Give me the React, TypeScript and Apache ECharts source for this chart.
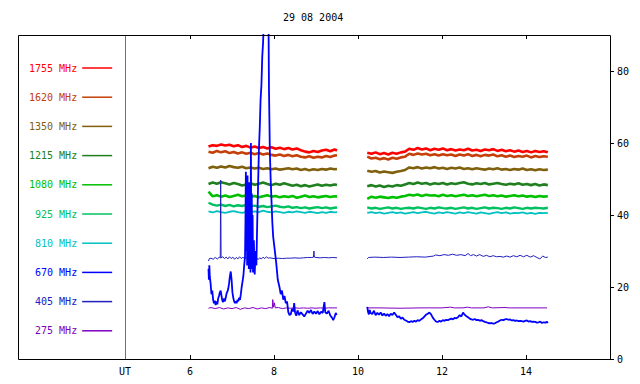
import React, { useEffect, useRef } from "react";
import * as echarts from "echarts";

const TITLE = "29 08 2004";
const FONT = "DejaVu Sans Mono";
const FREQS = ["1755 MHz", "1620 MHz", "1350 MHz", "1215 MHz", "1080 MHz", "925 MHz", "810 MHz", "670 MHz", "405 MHz", "275 MHz"];
const COLORS = ["#ff0000", "#c44008", "#80600c", "#208020", "#00c000", "#00c060", "#00c0c0", "#0000ff", "#2020c0", "#8000c0"];
const X_MIN = 4.452;
const X_MAX = 16;
const X_TICKS = [6, 8, 10, 12, 14];
const Y_TICKS = [0, 20, 40, 60, 80];
const GAP_T = 9.86;

const T1 = [6.44, 6.54, 6.64, 6.74, 6.84, 6.94, 7.04, 7.14, 7.24, 7.34, 7.44, 7.54, 7.64, 7.74, 7.84, 7.94, 8.04, 8.14, 8.24, 8.34, 8.44, 8.54, 8.64, 8.74, 8.84, 8.94, 9.04, 9.14, 9.24, 9.34, 9.44, 9.50];
const T2 = [10.22, 10.32, 10.42, 10.52, 10.62, 10.72, 10.82, 10.92, 11.02, 11.12,
  11.22, 11.32, 11.42, 11.52, 11.62, 11.72, 11.82, 11.92, 12.02, 12.12,
  12.22, 12.32, 12.42, 12.52, 12.62, 12.72, 12.82, 12.92, 13.02, 13.12,
  13.22, 13.32, 13.42, 13.52, 13.62, 13.72, 13.82, 13.92, 14.02, 14.12,
  14.22, 14.32, 14.42, 14.52];

const V1755a = [59.0, 59.4, 59.2, 59.6, 59.3, 59.5, 59.1, 59.4, 58.9, 59.2,
  58.7, 59.0, 58.6, 58.9, 58.5, 58.8, 58.4, 58.7, 58.3, 58.6,
  58.2, 58.5, 58.0, 57.6, 57.4, 57.8, 57.5, 57.9, 58.1, 57.7,
  58.2, 57.9];
const V1755b = [57.3, 57.0, 57.4, 56.9, 57.2, 56.8, 57.3, 57.0, 57.4, 57.6,
  58.4, 58.1, 58.6, 58.2, 58.5, 58.0, 58.4, 58.1, 58.5, 58.0,
  58.3, 57.9, 58.2, 58.0, 58.4, 57.9, 58.1, 57.8, 58.2, 58.0,
  58.3, 57.8, 58.1, 57.7, 58.0, 57.6, 57.9, 57.5, 57.8, 57.4,
  57.8, 57.5, 57.7, 57.4];
const V1620a = [57.6, 57.3, 57.8, 57.4, 57.7, 57.2, 57.5, 57.1, 57.4, 57.0,
  57.3, 56.9, 57.2, 56.8, 57.1, 56.7, 56.5, 56.8, 56.4, 56.7,
  56.3, 56.6, 56.2, 56.0, 56.3, 55.9, 56.2, 56.0, 56.4, 56.1,
  56.5, 56.6];
const V1620b = [56.2, 55.7, 55.9, 55.5, 55.8, 55.4, 55.9, 55.6, 56.0, 56.2,
  57.0, 56.7, 57.1, 56.8, 57.0, 56.6, 56.9, 56.5, 56.9, 56.6,
  56.8, 56.4, 56.8, 56.5, 56.9, 56.4, 56.7, 56.3, 56.7, 56.5,
  56.8, 56.3, 56.6, 56.2, 56.5, 56.1, 56.4, 56.2, 56.5, 56.0,
  56.4, 56.1, 56.3, 56.2];
const V1350a = [53.0, 53.4, 53.1, 53.5, 53.2, 53.6, 53.3, 53.1, 53.4, 53.0,
  53.2, 52.9, 53.1, 52.8, 53.0, 52.7, 52.9, 52.6, 52.8, 53.0,
  52.7, 52.9, 52.5, 52.8, 52.4, 52.7, 52.5, 52.8, 52.6, 52.9,
  52.7, 52.8];
const V1350b = [52.3, 52.0, 52.2, 51.8, 52.1, 51.9, 51.7, 52.0, 52.2, 52.5,
  53.2, 53.0, 53.3, 52.9, 53.2, 53.0, 53.3, 52.9, 53.1, 52.8,
  53.1, 52.9, 53.2, 52.8, 53.0, 52.7, 53.0, 52.8, 52.6, 52.9,
  52.7, 53.0, 52.6, 52.8, 52.5, 52.8, 52.6, 52.9, 52.5, 52.7,
  52.4, 52.7, 52.5, 52.6];
const V1215a = [48.6, 49.0, 48.7, 49.1, 48.8, 48.5, 48.9, 48.6, 48.2, 48.5,
  48.8, 48.4, 48.7, 49.0, 48.6, 48.3, 48.7, 48.4, 48.8, 48.5,
  48.1, 48.4, 48.0, 48.3, 47.9, 48.2, 48.5, 48.1, 48.4, 48.2,
  48.5, 48.3];
const V1215b = [48.0, 48.3, 47.9, 48.2, 47.8, 48.1, 47.9, 48.3, 48.1, 48.5,
  48.9, 48.6, 49.0, 48.7, 48.9, 48.5, 48.8, 48.6, 48.9, 48.5,
  48.8, 48.6, 48.9, 49.1, 48.7, 48.5, 48.8, 48.6, 48.9, 48.5,
  48.7, 48.9, 48.6, 48.4, 48.7, 48.5, 48.8, 48.4, 48.6, 48.3,
  48.6, 48.2, 48.5, 48.3];
const V1080a = [46.5, 45.2, 45.5, 45.1, 45.4, 45.0, 45.3, 45.6, 45.2, 45.4,
  45.0, 45.3, 44.9, 45.2, 45.5, 45.1, 45.3, 44.9, 45.2, 45.0,
  45.3, 44.8, 45.1, 45.4, 45.0, 45.2, 44.9, 45.1, 45.3, 45.0,
  45.2, 45.1];
const V1080b = [44.5, 45.1, 44.8, 45.1, 44.9, 44.7, 45.0, 44.8, 45.1, 45.3,
  45.6, 45.4, 45.7, 45.3, 45.6, 45.4, 45.5, 45.2, 45.6, 45.3,
  45.5, 45.2, 45.4, 45.6, 45.3, 45.5, 45.2, 45.4, 45.6, 45.3,
  45.5, 45.2, 45.4, 45.1, 45.3, 45.5, 45.2, 45.4, 45.1, 45.3,
  45.0, 45.3, 45.1, 45.2];
const V925a = [43.4, 42.9, 42.6, 42.9, 42.5, 42.8, 42.4, 42.7, 42.5, 42.8,
  42.4, 42.6, 42.3, 42.5, 42.2, 42.4, 42.6, 42.3, 42.1, 42.4,
  42.0, 42.2, 41.9, 42.1, 41.8, 42.0, 42.2, 41.9, 42.1, 41.8,
  42.0, 42.1];
const V925b = [42.1, 41.8, 42.0, 41.7, 41.9, 42.1, 41.8, 42.0, 41.7, 41.9,
  42.0, 41.8, 42.1, 41.9, 41.7, 42.0, 41.8, 42.1, 41.9, 41.8,
  42.0, 41.7, 41.9, 42.1, 41.8, 42.0, 41.7, 41.9, 42.1, 41.8,
  42.0, 41.9, 41.7, 42.0, 41.8, 42.1, 41.9, 41.7, 42.0, 41.8,
  42.0, 41.9, 41.8, 42.0];
const V810a = [41.0, 40.7, 41.1, 40.8, 40.6, 40.9, 41.1, 40.8, 40.6, 40.9,
  40.7, 41.0, 40.8, 41.2, 40.9, 40.7, 41.0, 40.8, 40.6, 40.9,
  40.7, 41.0, 40.8, 40.6, 40.9, 40.7, 40.5, 40.8, 40.6, 40.9,
  40.7, 40.8];
const V810b = [40.6, 40.8, 40.5, 40.7, 40.4, 40.6, 40.8, 40.5, 40.7, 40.4,
  40.6, 40.8, 40.5, 40.7, 40.9, 40.6, 40.4, 40.7, 40.5, 40.8,
  40.6, 40.4, 40.7, 40.5, 40.8, 40.6, 40.4, 40.7, 40.5, 40.3,
  40.6, 40.8, 40.5, 40.7, 40.4, 40.6, 40.5, 40.7, 40.4, 40.6,
  40.3, 40.6, 40.5, 40.6];

// 670 MHz: [UT hour, value]
const P670a = [
  [6.44, 25], [6.45, 22], [6.46, 26], [6.47, 23], [6.49, 21], [6.51, 18], [6.53, 19], [6.55, 16.5], [6.57, 15.5], [6.59, 16.2],
  [6.61, 15], [6.63, 16], [6.65, 15.2], [6.67, 16.8], [6.69, 17.5], [6.71, 18.5], [6.73, 19], [6.75, 17.5], [6.77, 16.2], [6.79, 15.8],
  [6.81, 16.8], [6.83, 16], [6.85, 17], [6.87, 18.2], [6.89, 18.7], [6.91, 19.5], [6.93, 21], [6.95, 23], [6.97, 24.3], [6.99, 22],
  [7.01, 18.5], [7.03, 17], [7.05, 16], [7.07, 15.5], [7.09, 16], [7.11, 15.5], [7.13, 16.5], [7.15, 16], [7.17, 17], [7.19, 16.4],
  [7.21, 18], [7.23, 20], [7.25, 21.5], [7.27, 23], [7.29, 26], [7.31, 28.4], [7.32, 38], [7.33, 52], [7.34, 30], [7.35, 48],
  [7.36, 26], [7.37, 51], [7.38, 27], [7.39, 45], [7.40, 25], [7.41, 49], [7.42, 28], [7.43, 44], [7.44, 24], [7.45, 60],
  [7.46, 26], [7.47, 46], [7.48, 25], [7.49, 40], [7.50, 24], [7.52, 33], [7.54, 23.5], [7.56, 30], [7.58, 26], [7.60, 38],
  [7.62, 48], [7.64, 58], [7.66, 64], [7.68, 72], [7.70, 76], [7.72, 84], [7.74, 88], [7.76, 95], [7.78, 92], [7.80, 100],
  [7.82, 96], [7.84, 105], [7.86, 98], [7.87, 92], [7.88, 75], [7.89, 67], [7.90, 58], [7.92, 50], [7.94, 44], [7.96, 38],
  [7.98, 34], [8.01, 31], [8.05, 27], [8.09, 22], [8.13, 20], [8.16, 18], [8.19, 19], [8.22, 16.5], [8.25, 17.5], [8.28, 15.5],
  [8.31, 16], [8.34, 13], [8.37, 12.2], [8.40, 12.5], [8.43, 14], [8.46, 13.2], [8.48, 15.5], [8.50, 13], [8.53, 12], [8.56, 13.5],
  [8.60, 12.2], [8.64, 13], [8.68, 12.4], [8.72, 11.8], [8.76, 12.6], [8.80, 13.4], [8.84, 12.8], [8.88, 13.6], [8.92, 12.5], [8.96, 13.2],
  [9.00, 12.6], [9.04, 13.3], [9.08, 12.4], [9.12, 13.1], [9.16, 12.8], [9.20, 15.8], [9.22, 13], [9.26, 12.6], [9.30, 13.4], [9.34, 12.1],
  [9.38, 11.5], [9.41, 10.8], [9.44, 11.6], [9.47, 12.8], [9.49, 12.2]
];
const P670b = [
  [10.22, 14.5], [10.24, 13], [10.26, 12.4], [10.28, 13.6], [10.30, 12.8], [10.34, 12.5], [10.38, 13.4], [10.42, 12.2], [10.46, 12.8], [10.50, 12.3],
  [10.54, 12.9], [10.58, 12.1], [10.62, 12.6], [10.66, 12.0], [10.70, 12.5], [10.74, 11.9], [10.78, 12.6], [10.82, 12.2], [10.86, 12.9], [10.90, 12.3],
  [10.94, 11.6], [10.98, 11.9], [11.02, 11.2], [11.06, 11.5], [11.10, 10.9], [11.14, 10.7], [11.18, 10.4], [11.22, 10.2], [11.26, 10.5], [11.30, 10.3],
  [11.34, 10.6], [11.38, 10.4], [11.42, 10.8], [11.46, 10.6], [11.50, 11.0], [11.54, 11.3], [11.58, 11.8], [11.62, 12.3], [11.66, 12.6], [11.70, 12.9],
  [11.74, 12.4], [11.78, 11.5], [11.82, 10.9], [11.86, 10.4], [11.90, 10.3], [11.94, 10.6], [11.98, 10.4], [12.02, 10.8], [12.06, 10.6], [12.10, 10.9],
  [12.14, 10.8], [12.18, 11.0], [12.22, 11.2], [12.26, 11.0], [12.30, 11.4], [12.34, 11.3], [12.38, 11.6], [12.42, 12.2], [12.46, 11.8], [12.50, 12.9],
  [12.54, 12.3], [12.58, 11.9], [12.62, 11.6], [12.66, 11.2], [12.70, 11.0], [12.74, 10.9], [12.78, 11.1], [12.82, 10.8], [12.86, 10.9], [12.90, 10.6],
  [12.94, 10.8], [12.98, 10.5], [13.02, 10.3], [13.06, 10.2], [13.10, 10.0], [13.14, 9.9], [13.18, 10.0], [13.22, 9.8], [13.26, 9.9], [13.30, 10.2],
  [13.34, 10.4], [13.38, 10.7], [13.42, 10.9], [13.46, 10.8], [13.50, 11.0], [13.54, 11.1], [13.58, 10.9], [13.62, 11.0], [13.66, 10.7], [13.70, 10.8],
  [13.74, 10.6], [13.78, 10.7], [13.82, 10.5], [13.86, 10.6], [13.90, 10.5], [13.94, 10.4], [13.98, 10.6], [14.02, 10.7], [14.06, 10.4], [14.10, 10.5],
  [14.14, 10.3], [14.18, 10.4], [14.22, 10.3], [14.26, 10.1], [14.30, 10.2], [14.34, 10.4], [14.38, 10.0], [14.42, 10.2], [14.46, 10.1], [14.50, 10.3],
  [14.52, 10.0]
];

// 405 MHz
const P405a = [
  [6.44, 27.2], [6.46, 27.9], [6.50, 28.0], [6.55, 27.7], [6.60, 28.2], [6.65, 27.8], [6.70, 28.3], [6.72, 28.0], [6.73, 49.7], [6.74, 28.1],
  [6.78, 28.4], [6.82, 27.9], [6.86, 28.3], [6.90, 27.8], [6.94, 28.4], [6.98, 27.9], [7.02, 28.3], [7.06, 27.7], [7.10, 28.2], [7.14, 27.8],
  [7.18, 28.4], [7.22, 27.9], [7.26, 28.3], [7.30, 27.8], [7.34, 28.2], [7.38, 27.7], [7.42, 28.3], [7.46, 27.9], [7.50, 28.4], [7.54, 27.8],
  [7.58, 28.2], [7.62, 27.6], [7.66, 28.1], [7.70, 27.8], [7.74, 28.3], [7.78, 27.9], [7.82, 28.4], [7.86, 28.0], [7.90, 28.1], [8.00, 27.9],
  [8.10, 28.0], [8.20, 27.9], [8.30, 28.0], [8.40, 28.0], [8.50, 28.1], [8.60, 28.0], [8.70, 28.1], [8.80, 28.2], [8.90, 28.2], [8.94, 28.3],
  [8.95, 30.0], [8.96, 28.3], [9.00, 28.2], [9.10, 28.1], [9.20, 28.2], [9.30, 28.1], [9.40, 28.2], [9.50, 28.1]
];
const P405b = [
  [10.22, 27.8], [10.25, 28.2], [10.40, 28.3], [10.60, 28.2], [10.80, 28.3], [11.00, 28.2], [11.20, 28.3], [11.40, 28.4], [11.60, 28.3], [11.80, 28.6],
  [11.85, 28.9], [11.95, 28.7], [12.05, 29.0], [12.15, 28.8], [12.25, 29.1], [12.35, 28.8], [12.45, 29.0], [12.55, 28.7], [12.62, 29.3], [12.68, 28.7],
  [12.75, 29.0], [12.82, 28.6], [12.90, 29.0], [12.98, 28.5], [13.06, 28.8], [13.14, 28.4], [13.22, 28.7], [13.30, 28.4], [13.38, 28.5], [13.46, 28.3],
  [13.54, 28.6], [13.62, 28.3], [13.70, 28.7], [13.78, 28.4], [13.86, 28.8], [13.94, 28.4], [14.02, 28.8], [14.10, 28.3], [14.18, 28.7], [14.26, 28.2],
  [14.33, 27.8], [14.40, 28.6], [14.46, 28.2], [14.52, 28.3]
];

// 275 MHz
const P275a = [
  [6.44, 14.1], [6.50, 14.3], [6.60, 14.0], [6.70, 14.3], [6.80, 13.9], [6.90, 14.2], [7.00, 14.0], [7.10, 14.3], [7.20, 13.8], [7.30, 14.2],
  [7.40, 14.0], [7.50, 14.3], [7.60, 13.9], [7.70, 14.2], [7.80, 14.0], [7.90, 14.3], [7.96, 14.1], [7.97, 16.5], [7.99, 14.4], [8.01, 15.6],
  [8.03, 14.2], [8.10, 14.3], [8.20, 14.0], [8.30, 14.2], [8.40, 14.1], [8.50, 14.2], [8.60, 14.1], [8.70, 14.2], [8.80, 14.1], [8.90, 14.2],
  [9.00, 14.1], [9.10, 14.2], [9.20, 14.1], [9.30, 14.2], [9.40, 14.2], [9.50, 14.2]
];
const P275b = [
  [10.22, 14.2], [10.50, 14.2], [11.00, 14.1], [11.50, 14.2], [12.00, 14.2], [12.20, 14.4], [12.30, 14.2], [12.50, 14.2], [12.60, 14.4], [12.70, 14.2],
  [13.00, 14.2], [13.10, 14.5], [13.20, 14.2], [13.50, 14.3], [13.60, 14.2], [14.00, 14.2], [14.50, 14.2]
];

const zip = (ts: number[], vs: number[]) => ts.map((t, i) => [t, vs[i]]);
const joinSeg = (a: any[], b: any[]) => [...a, [GAP_T, null], ...b];

const SERIES_DATA: any[][] = [
  joinSeg(zip(T1, V1755a), zip(T2, V1755b)),
  joinSeg(zip(T1, V1620a), zip(T2, V1620b)),
  joinSeg(zip(T1, V1350a), zip(T2, V1350b)),
  joinSeg(zip(T1, V1215a), zip(T2, V1215b)),
  joinSeg(zip(T1, V1080a), zip(T2, V1080b)),
  joinSeg(zip(T1, V925a), zip(T2, V925b)),
  joinSeg(zip(T1, V810a), zip(T2, V810b)),
  joinSeg(P670a, P670b),
  joinSeg(P405a, P405b),
  joinSeg(P275a, P275b),
];
const WIDTHS = [2.6, 2.6, 2.6, 2.6, 2.6, 2.4, 1.8, 1.8, 1, 1];

export default function App() {
  const ref = useRef<HTMLDivElement>(null);
  useEffect(() => {
    if (!ref.current) return;
    const chart = echarts.init(ref.current, null, { renderer: "svg" });
    const textBase = { fontFamily: FONT, fontSize: 10, color: "#000" };
    chart.setOption({
      animation: false,
      backgroundColor: "#fff",
      title: {
        text: TITLE,
        left: 283,
        top: 12,
        padding: 0,
        textStyle: { ...textBase, fontWeight: "normal" },
      },
      legend: {
        orient: "vertical",
        left: 29,
        top: 61,
        align: "right",
        icon: "rect",
        itemWidth: 30,
        itemHeight: 1.5,
        itemGap: 15.2,
        padding: 0,
        selectedMode: false,
        textStyle: { fontFamily: FONT, fontSize: 10, lineHeight: 14 },
        data: FREQS.map((n, i) => ({ name: n, textStyle: { color: COLORS[i] } })),
      },
      grid: { left: 125, right: 30, top: 35, bottom: 25, containLabel: false },
      xAxis: [
        {
          type: "value",
          min: X_MIN,
          max: X_MAX,
          position: "bottom",
          axisLine: { show: false },
          splitLine: { show: false },
          axisTick: { show: true, inside: true, length: 4, customValues: X_TICKS, lineStyle: { color: "#000" } },
          axisLabel: {
            ...textBase,
            margin: 7,
            customValues: [X_MIN, ...X_TICKS],
            formatter: (v: number) => (v < 5 ? "UT" : String(v)),
          },
        },
        {
          type: "value",
          min: X_MIN,
          max: X_MAX,
          position: "top",
          axisLine: { show: false },
          splitLine: { show: false },
          axisTick: { show: true, inside: true, length: 4, customValues: X_TICKS, lineStyle: { color: "#000" } },
          axisLabel: { show: false },
        },
      ],
      yAxis: {
        type: "value",
        min: 0,
        max: 90,
        position: "right",
        axisLine: { show: false },
        splitLine: { show: false },
        axisTick: { show: true, length: 4, customValues: Y_TICKS, lineStyle: { color: "#000" } },
        axisLabel: { ...textBase, margin: 7, customValues: Y_TICKS },
      },
      graphic: [
        {
          type: "rect",
          shape: { x: 18.5, y: 35.5, width: 592, height: 324 },
          style: { fill: "none", stroke: "#000", lineWidth: 1 },
          z: 100,
          silent: true,
        },
        {
          type: "line",
          shape: { x1: 125.5, y1: 36, x2: 125.5, y2: 359 },
          style: { stroke: "#707070", lineWidth: 1 },
          z: 100,
          silent: true,
        },
      ],
      series: FREQS.map((name, i) => ({
        name,
        type: "line",
        xAxisIndex: 0,
        data: SERIES_DATA[i],
        showSymbol: false,
        symbol: "none",
        connectNulls: false,
        z: i === 7 ? 5 : 2,
        lineStyle: { color: COLORS[i], width: WIDTHS[i] },
        itemStyle: { color: COLORS[i] },
      })),
    });
    return () => chart.dispose();
  }, []);
  return (
    <div
      ref={ref}
      style={{ position: "absolute", left: 0, top: 0, width: 640, height: 384 }}
    />
  );
}
